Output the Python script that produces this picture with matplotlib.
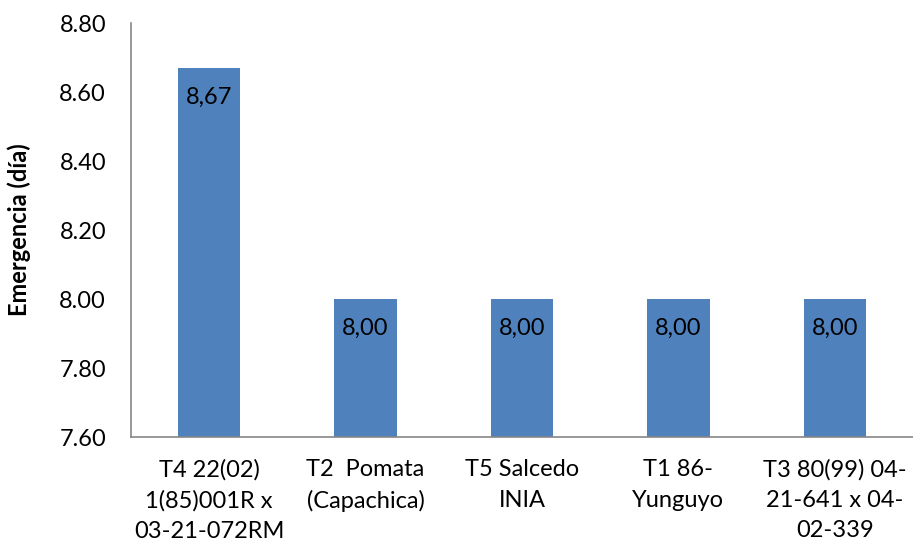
import matplotlib
matplotlib.use("Agg")
import matplotlib.pyplot as plt

categories = [
    "T4 22(02)\n1(85)001R x\n03-21-072RM",
    "T2  Pomata\n(Capachica)",
    "T5 Salcedo\nINIA",
    "T1 86-\nYunguyo",
    "T3 80(99) 04-\n21-641 x 04-\n02-339",
]
values = [8.67, 8.00, 8.00, 8.00, 8.00]
yticks = [7.60, 7.80, 8.00, 8.20, 8.40, 8.60, 8.80]

plt.rcParams["font.family"] = ["Lato", "DejaVu Sans"]

fig = plt.figure(figsize=(9.13, 5.49), dpi=100)
ax = fig.add_axes([0.1435, 0.204, 0.8565, 0.754])

x = range(len(categories))
bars = ax.bar(x, values, width=0.40, color="#4F81BD", bottom=0)

for xi, v in zip(x, values):
    ax.annotate(f"{v:.2f}".replace(".", ","), (xi, v), xytext=(0, -21),
                textcoords="offset points", ha="center", va="center",
                fontsize=17, color="black")

ax.set_xlim(-0.5, len(categories) - 0.5)
ax.set_ylim(7.60, 8.80)
ax.set_yticks(yticks)
ax.set_yticklabels([f"{t:.2f}" for t in yticks], fontsize=17)
ax.set_xticks(list(x))
ax.set_xticklabels(categories, fontsize=17, linespacing=1.55)
ax.tick_params(axis="y", length=0, pad=18)
ax.tick_params(axis="x", length=0, pad=16)

for side in ["top", "right"]:
    ax.spines[side].set_visible(False)
for side in ["left", "bottom"]:
    ax.spines[side].set_color("#868686")
    ax.spines[side].set_linewidth(1.2)

ax.set_ylabel("Emergencia (día)", fontsize=17, fontweight="bold", labelpad=20)

fig.savefig("out.png", dpi=100)
